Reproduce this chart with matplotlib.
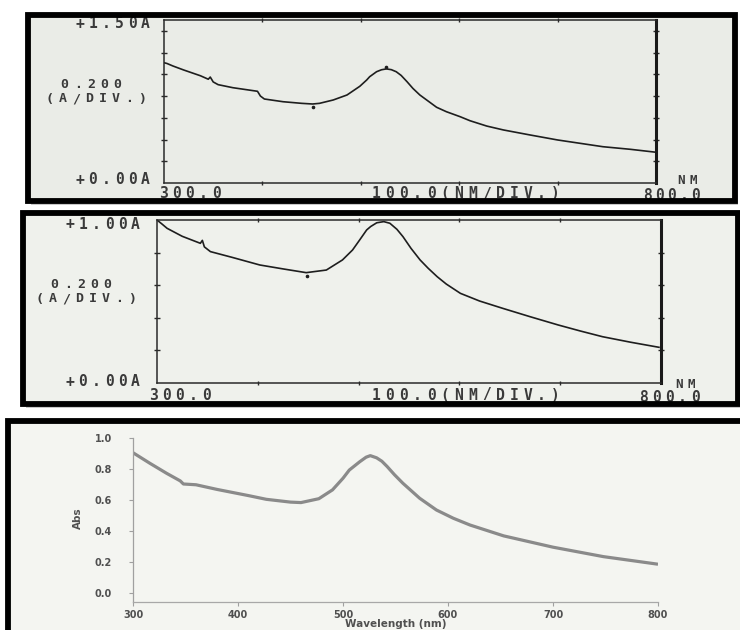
import numpy as np
import matplotlib
matplotlib.use("Agg")
import matplotlib.pyplot as plt
from matplotlib.patches import Rectangle

# ---------------- data ----------------
wl1 = [300, 303, 309, 320, 337, 345, 347, 350, 355, 370, 395, 398, 402, 421,
       440, 451, 458, 472, 486, 499, 506, 509, 516, 521, 526, 531, 536, 541,
       547, 553, 560, 577, 587, 601, 611, 628, 645, 672, 700, 723, 746, 774, 800]
abs1 = [1.107, 1.10, 1.077, 1.04, 0.987, 0.955, 0.975, 0.93, 0.905, 0.877,
        0.844, 0.80, 0.773, 0.748, 0.733, 0.727, 0.733, 0.764, 0.81, 0.89, 0.948,
        0.978, 1.024, 1.042, 1.050, 1.043, 1.024, 0.99, 0.932, 0.87, 0.81,
        0.697, 0.656, 0.61, 0.573, 0.524, 0.488, 0.442, 0.396, 0.365, 0.334,
        0.31, 0.283]
mark1_wl = [451, 526]
mark1_abs = [0.696, 1.064]

wl2 = [300, 305, 310, 325, 343, 345, 347, 353, 375, 402, 425, 448, 468, 484,
       494, 501, 508, 512, 518, 525, 531, 538, 544, 552, 561, 569, 578, 587,
       601, 620, 643, 670, 698, 720, 742, 770, 798]
abs2 = [1.0, 0.975, 0.949, 0.90, 0.857, 0.875, 0.835, 0.806, 0.77, 0.724, 0.70,
        0.677, 0.693, 0.755, 0.816, 0.877, 0.939, 0.96, 0.983, 0.99, 0.98,
        0.943, 0.898, 0.826, 0.755, 0.704, 0.652, 0.607, 0.55, 0.503, 0.458,
        0.407, 0.356, 0.319, 0.284, 0.25, 0.219]
mark2_wl = [449]
mark2_abs = [0.656]

wl3 = [300, 316, 332, 345, 348, 360, 380, 410, 427, 450, 460, 477, 490, 500,
       506, 516, 522, 526, 532, 537, 542, 549, 557, 573, 589, 605, 621, 653,
       700, 748, 800]
abs3 = [0.907, 0.839, 0.774, 0.725, 0.705, 0.70, 0.67, 0.63, 0.606, 0.588,
        0.585, 0.61, 0.667, 0.742, 0.795, 0.849, 0.878, 0.888, 0.874, 0.852,
        0.818, 0.765, 0.71, 0.613, 0.537, 0.484, 0.44, 0.37, 0.297, 0.236,
        0.187]

x_ticks_scan = [400, 500, 600, 700]
y_ticks_scan = [0.2, 0.4, 0.6, 0.8, 1.0, 1.2, 1.4]
x_ticks3 = [300, 400, 500, 600, 700, 800]
y_ticks3 = [0.0, 0.2, 0.4, 0.6, 0.8, 1.0]
y_labels3 = ["0.0", "0.2", "0.4", "0.6", "0.8", "1.0"]

# ---------------- figure ----------------
W, H = 740, 630
fig = plt.figure(figsize=(W / 100, H / 100), dpi=100)
fig.patch.set_facecolor("white")


def fx(x):
    return x / W


def fy(y):
    return 1 - y / H


def ax_px(l, t, r, b):
    return fig.add_axes([fx(l), fy(b), (r - l) / W, (b - t) / H])


def panel(l, t, r, b, fill, lw=4.2):
    fig.add_artist(Rectangle((fx(l + 3), fy(b + 4)), (r - l) / W, (b - t) / H,
                             transform=fig.transFigure, facecolor="#c8c8c8",
                             edgecolor="none", zorder=-3))
    fig.add_artist(Rectangle((fx(l), fy(b)), (r - l) / W, (b - t) / H,
                             transform=fig.transFigure, facecolor=fill,
                             edgecolor="none", zorder=-2))
    fig.add_artist(Rectangle((fx(l), fy(b)), (r - l) / W, (b - t) / H,
                             transform=fig.transFigure, facecolor="none",
                             edgecolor="black", lw=lw, zorder=10))


def spaced(x, y, s, pitch=13.2, size=10.5, color="#3a3a3a"):
    for i, ch in enumerate(s):
        fig.text(fx(x + i * pitch + pitch / 2), fy(y), ch, ha="center",
                 va="center", fontsize=size, family="DejaVu Sans Mono",
                 fontweight="bold", color=color)


panel(28, 15, 735, 201, "#eaece7")
panel(23, 213, 738, 404, "#eff1ec")
panel(8, 421, 748, 645, "#f4f5f1")


def scan_axes(ax, ymax):
    ax.set_facecolor("none")
    ax.set_xlim(300, 800)
    ax.set_ylim(0, ymax)
    for side in ["top", "bottom", "left"]:
        ax.spines[side].set_color("#2a2a2a")
        ax.spines[side].set_linewidth(1.1)
    ax.spines["right"].set_color("#1a1a1a")
    ax.spines["right"].set_linewidth(2.2)
    ax.set_xticks(x_ticks_scan)
    ax.set_yticks([v for v in y_ticks_scan if v < ymax])
    ax.tick_params(axis="both", which="both", direction="inout", length=5,
                   width=1.0, color="#2a2a2a", labelleft=False,
                   labelbottom=False, left=True, right=True, top=True,
                   bottom=True)
    ax.tick_params(axis="x", length=3)


# ---- panel 1 ----
ax1 = ax_px(164, 20, 656, 183)
scan_axes(ax1, 1.5)
ax1.plot(wl1, abs1, color="#1e1e1e", lw=1.2)
ax1.plot(mark1_wl, mark1_abs, ls="none", marker="o", ms=1.6, color="#1e1e1e")

spaced(73, 24, "+1.50A")
spaced(58, 85, "0.200", size=9.5)
spaced(43, 99, "(A/DIV.)", size=9.5)
spaced(73, 180, "+0.00A")
spaced(157, 194, "300.0")
spaced(369, 194, "100.0(NM/DIV.)", pitch=13.8)
spaced(641, 195, "800.0", pitch=12.2)
spaced(675, 181, "NM", pitch=12.2, size=9)

# ---- panel 2 ----
ax2 = ax_px(157, 220, 661, 383)
scan_axes(ax2, 1.0)
ax2.plot(wl2, abs2, color="#1e1e1e", lw=1.2)
ax2.plot(mark2_wl, mark2_abs, ls="none", marker="o", ms=1.6, color="#1e1e1e")

spaced(63, 224, "+1.00A")
spaced(48, 285, "0.200", size=9.5)
spaced(33, 299, "(A/DIV.)", size=9.5)
spaced(63, 382, "+0.00A")
spaced(147, 395, "300.0")
spaced(369, 395, "100.0(NM/DIV.)", pitch=13.8)
spaced(637, 397, "800.0", pitch=13.0)
spaced(672, 384, "NM", pitch=13.0, size=9)

# ---- panel 3 ----
ax3 = ax_px(133, 438.3, 658, 601.7)
ax3.set_facecolor("none")
ax3.set_xlim(300, 800)
ax3.set_ylim(-0.055, 1.0)
ax3.spines["top"].set_visible(False)
ax3.spines["right"].set_visible(False)
ax3.spines["left"].set_color("#a0a0a0")
ax3.spines["left"].set_linewidth(0.9)
ax3.spines["bottom"].set_color("#a8a8a8")
ax3.spines["bottom"].set_linewidth(0.9)
ax3.set_xticks(x_ticks3)
ax3.set_xticklabels([str(v) for v in x_ticks3])
ax3.set_yticks(y_ticks3)
ax3.set_yticklabels(y_labels3)
ax3.tick_params(axis="both", direction="out", length=3, width=0.8,
                color="#a0a0a0", labelsize=7, labelcolor="#505050", pad=3)
ax3.tick_params(axis="y", pad=12)
for lab in ax3.get_xticklabels() + ax3.get_yticklabels():
    lab.set_fontweight("bold")
ax3.plot(wl3, abs3, color="#8a8a8a", lw=2.3, solid_capstyle="butt",
         solid_joinstyle="round")
ax3.set_xlabel("Wavelength (nm)", fontsize=7.5, fontweight="bold",
               color="#505050", labelpad=-1)
fig.text(fx(78), fy(518), "Abs", rotation=90, ha="center", va="center",
         fontsize=7.5, fontweight="bold", color="#505050")

fig.savefig("out.png", dpi=100, facecolor="white")
